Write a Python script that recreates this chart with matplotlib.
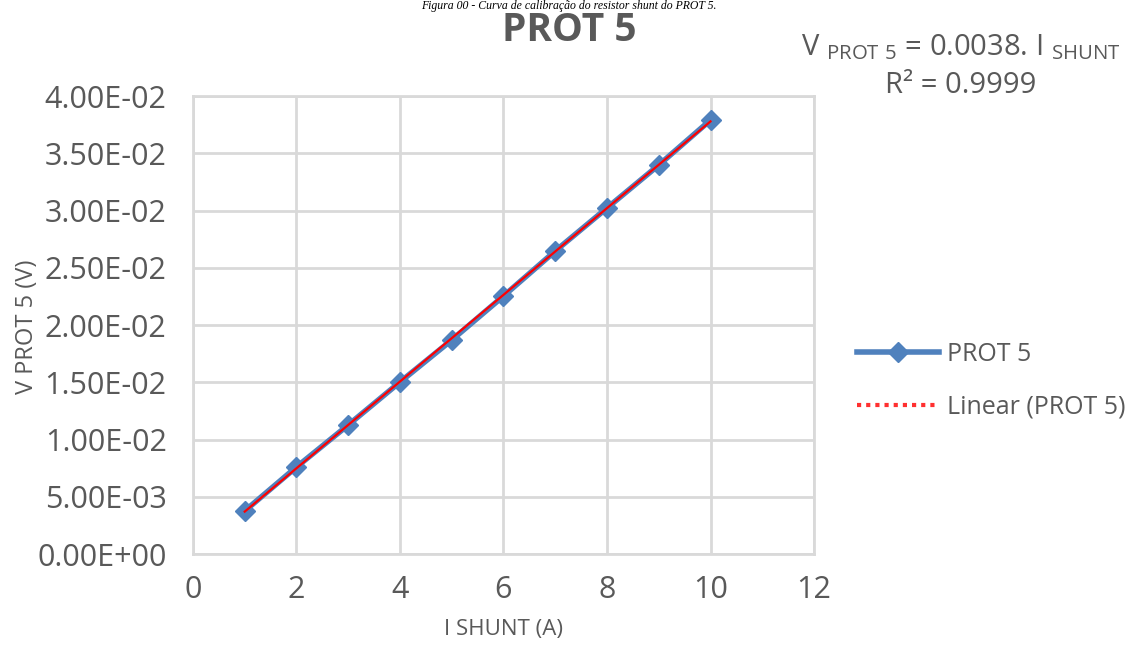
#!/usr/bin/python

import matplotlib as mpl
import matplotlib.pyplot as plt
from matplotlib.lines import Line2D
import numpy as np


# values
i_shunt = [1, 2, 3, 4, 5, 6, 7, 8, 9, 10]
v_prot5 = [0.00376, 0.00760, 0.01127, 0.01502, 0.01869,
           0.02253, 0.02646, 0.03022, 0.03397, 0.03790]
x_ticks = [0, 2, 4, 6, 8, 10, 12]
y_ticks = [0.0, 0.005, 0.010, 0.015, 0.020, 0.025, 0.030, 0.035, 0.040]
y_labels = ['0.00E+00', '5.00E-03', '1.00E-02', '1.50E-02', '2.00E-02',
            '2.50E-02', '3.00E-02', '3.50E-02', '4.00E-02']

grey = '#595959'
grid = '#d9d9d9'
blue = '#4f81bd'


def main():
    mpl.rcParams['font.family'] = ['Open Sans', 'DejaVu Sans']
    fig = plt.figure(figsize=(11.46, 6.54), dpi=100)
    ax = fig.add_axes([0.1684, 0.1529, 0.5419, 0.7003])

    x = np.array(i_shunt, dtype=float)
    y = np.array(v_prot5)
    ax.plot(x, y, color=blue, linewidth=4, marker='D', markersize=10.5,
            zorder=3)
    slope, icpt = np.polyfit(x, y, 1)
    xf = np.array([x.min(), x.max()])
    ax.plot(xf, slope * xf + icpt, color='#ff0000', linewidth=1.6, zorder=4)

    ax.set_xlim(0, 12)
    ax.set_ylim(0, 0.04)
    ax.set_xticks(x_ticks)
    ax.set_xticklabels([str(t) for t in x_ticks])
    ax.set_yticks(y_ticks)
    ax.set_yticklabels(y_labels)
    ax.tick_params(length=0, labelsize=22, labelcolor=grey)
    ax.tick_params(axis='y', pad=19)
    ax.tick_params(axis='x', pad=15)
    ax.grid(True, color=grid, linewidth=2)
    ax.set_axisbelow(True)
    for s in ax.spines.values():
        s.set_color(grid)
        s.set_linewidth(2)

    ax.set_xlabel('I SHUNT (A)', fontsize=16, color=grey, labelpad=10)
    fig.text(27 / 1146, 1 - 327 / 654, 'V PROT 5 (V)', rotation=90,
             ha='center', va='center', fontsize=17, color=grey)

    fig.text(0.4965, 0.954, 'PROT 5', ha='center', va='center',
             fontsize=28, fontweight='bold', color=grey)
    fig.text(0.4965, 0.991, 'Figura 00 - Curva de calibração do resistor '
             'shunt do PROT 5.', ha='center', va='center', fontsize=8.5,
             style='italic', family='Liberation Serif')
    fig.text(0.838, 0.928, r'V $\mathregular{_{PROT\ 5}}$ = 0.0038. I '
             r'$\mathregular{_{SHUNT}}$', ha='center', va='center',
             fontsize=21, color=grey)
    fig.text(0.838, 0.870, 'R² = 0.9999', ha='center', va='center',
             fontsize=21, color=grey)

    handles = [Line2D([], [], color=blue, linewidth=4, marker='D',
                      markersize=10.5),
               Line2D([], [], color='#ff3030', linewidth=3,
                      linestyle=(0, (1, 1.2)))]
    fig.legend(handles, ['PROT 5', 'Linear (PROT 5)'], loc='center left',
               bbox_to_anchor=(0.728, 0.418), frameon=False, fontsize=18,
               labelcolor=grey, handlelength=3.3, handletextpad=0.3,
               labelspacing=1.1)

    fig.savefig('out.png', dpi=100)


if __name__ == '__main__':
    main()
